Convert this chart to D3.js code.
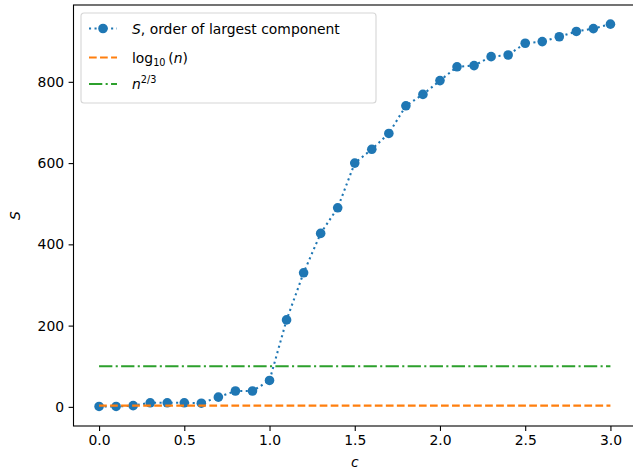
<!DOCTYPE html>
<html>
<head>
<meta charset="utf-8">
<script src="https://cdn.jsdelivr.net/npm/d3@7"></script>
<style>
  body { margin: 0; background: #fff; }
  text { font-family: "DejaVu Sans", sans-serif; }
</style>
</head>
<body>
<div class="visHolder"></div>
<script>
const width = 633;
const height = 471;

// c values and order of the largest component S (n = 1000)
const cValues = [0.0, 0.1, 0.2, 0.3, 0.4, 0.5, 0.6, 0.7, 0.8, 0.9, 1.0,
    1.1, 1.2, 1.3, 1.4, 1.5, 1.6, 1.7, 1.8, 1.9, 2.0,
    2.1, 2.2, 2.3, 2.4, 2.5, 2.6, 2.7, 2.8, 2.9, 3.0];
const sValues = [1, 1, 3, 10, 10, 10, 9, 24, 39, 39, 65,
    214, 330, 427, 490, 600, 634, 673, 741, 769, 803,
    837, 840, 862, 866, 895, 899, 911, 924, 931, 942];
const logLine = 3;      // log10(1000)
const powLine = 100;    // 1000^(2/3)
const xTicks = [0, 0.5, 1.0, 1.5, 2.0, 2.5, 3.0];
const yTicks = [0, 200, 400, 600, 800];

const mLeft = 73.5, mRight = 636, mTop = 5, mBottom = 426;
const dotR = 4.8;

let svg = d3
    .select(".visHolder")
    .append("svg")
    .attr("width", width)
    .attr("height", height);

// matplotlib-like 5% margins
const xMin = d3.min(cValues), xMax = d3.max(cValues);
const xPad = (xMax - xMin) * 0.05;
const xScale = d3.scaleLinear()
    .domain([xMin - xPad, xMax + xPad])
    .range([mLeft, mRight]);

const yMin = Math.min(d3.min(sValues), 0), yMax = d3.max(sValues);
const yPad = (yMax - yMin) * 0.05;
const yScale = d3.scaleLinear()
    .domain([yMin - yPad, yMax + yPad])
    .range([mBottom, mTop]);

// axes
const xAxis = d3.axisBottom(xScale)
    .tickValues(xTicks)
    .tickFormat(d3.format(".1f"))
    .tickSizeOuter(0)
    .tickSize(4.9)
    .tickPadding(4.5);
svg.append("g")
    .attr("id", "x-axis")
    .attr("transform", `translate(0, ${mBottom})`)
    .call(xAxis);

const yAxis = d3.axisLeft(yScale)
    .tickValues(yTicks)
    .tickFormat(d3.format("d"))
    .tickSizeOuter(0)
    .tickSize(4.9)
    .tickPadding(4.5);
svg.append("g")
    .attr("id", "y-axis")
    .attr("transform", `translate(${mLeft}, 0)`)
    .call(yAxis);

svg.selectAll(".tick text")
    .style("font-size", "13.9px")
    .style("fill", "#000");
svg.selectAll(".tick line").attr("stroke", "#000").attr("stroke-width", 1.1);
svg.selectAll(".domain").remove();

// frame
svg.append("rect")
    .attr("x", mLeft)
    .attr("y", mTop)
    .attr("width", mRight - mLeft)
    .attr("height", mBottom - mTop)
    .attr("fill", "none")
    .attr("stroke", "#000")
    .attr("stroke-width", 1.1);

// S series: dotted line + markers
const line = d3.line()
    .x((d, i) => xScale(cValues[i]))
    .y((d) => yScale(d));
svg.append("path")
    .datum(sValues)
    .attr("d", line)
    .attr("fill", "none")
    .attr("stroke", "#1f77b4")
    .attr("stroke-width", 2.08)
    .attr("stroke-dasharray", "2.08 3.44");

svg.append("g")
    .selectAll("circle")
    .data(sValues)
    .enter()
    .append("circle")
    .attr("cx", (d, i) => xScale(cValues[i]))
    .attr("cy", (d) => yScale(d))
    .attr("r", dotR)
    .attr("fill", "#1f77b4");

// reference lines (drawn after the series, like the original)
const hLine = (val, color, dash) => {
    svg.append("line")
        .attr("x1", xScale(xMin))
        .attr("x2", xScale(xMax))
        .attr("y1", yScale(val))
        .attr("y2", yScale(val))
        .attr("stroke", color)
        .attr("stroke-width", 2.08)
        .attr("stroke-dasharray", dash);
};
hLine(logLine, "#ff7f0e", "7.7 3.33");
hLine(powLine, "#2ca02c", "13.3 3.33 2.08 3.33");

// axis labels
svg.append("text")
    .attr("x", (mLeft + mRight) / 2)
    .attr("y", 467)
    .attr("text-anchor", "middle")
    .style("font-size", "13.9px")
    .style("font-style", "italic")
    .text("c");

svg.append("text")
    .attr("transform", `translate(20, ${(mTop + mBottom) / 2}) rotate(-90)`)
    .attr("text-anchor", "middle")
    .style("font-size", "13.9px")
    .style("font-style", "italic")
    .text("S");

// legend
const legend = svg.append("g").attr("transform", "translate(81, 13)");
legend.append("rect")
    .attr("width", 295)
    .attr("height", 90)
    .attr("rx", 3)
    .attr("fill", "#fff")
    .attr("fill-opacity", 0.8)
    .attr("stroke", "#d6d6d6")
    .attr("stroke-width", 1.1);

const rows = [15.5, 44.5, 71];

legend.append("line")
    .attr("x1", 8).attr("x2", 36)
    .attr("y1", rows[0]).attr("y2", rows[0])
    .attr("stroke", "#1f77b4").attr("stroke-width", 2.08)
    .attr("stroke-dasharray", "2.08 3.44");
legend.append("circle")
    .attr("cx", 22).attr("cy", rows[0]).attr("r", dotR)
    .attr("fill", "#1f77b4");
legend.append("line")
    .attr("x1", 8).attr("x2", 36)
    .attr("y1", rows[1]).attr("y2", rows[1])
    .attr("stroke", "#ff7f0e").attr("stroke-width", 2.08)
    .attr("stroke-dasharray", "7.7 3.33");
legend.append("line")
    .attr("x1", 8).attr("x2", 36)
    .attr("y1", rows[2]).attr("y2", rows[2])
    .attr("stroke", "#2ca02c").attr("stroke-width", 2.08)
    .attr("stroke-dasharray", "13.3 3.33 2.08 3.33");

const t1 = legend.append("text")
    .attr("x", 51).attr("y", rows[0] + 5)
    .style("font-size", "13.9px");
t1.append("tspan").style("font-style", "italic").text("S");
t1.append("tspan").text(", order of largest component");

const t2 = legend.append("text")
    .attr("x", 51).attr("y", rows[1] + 5)
    .style("font-size", "13.9px");
t2.append("tspan").text("log");
t2.append("tspan").attr("dy", 3).style("font-size", "9.7px").text("10");
t2.append("tspan").attr("dy", -3).text("\u2009(");
t2.append("tspan").style("font-style", "italic").text("n");
t2.append("tspan").text(")");

const t3 = legend.append("text")
    .attr("x", 51).attr("y", rows[2] + 5)
    .style("font-size", "13.9px");
t3.append("tspan").style("font-style", "italic").text("n");
t3.append("tspan").attr("dy", -6).style("font-size", "9.7px").text("2/3");
</script>
</body>
</html>
